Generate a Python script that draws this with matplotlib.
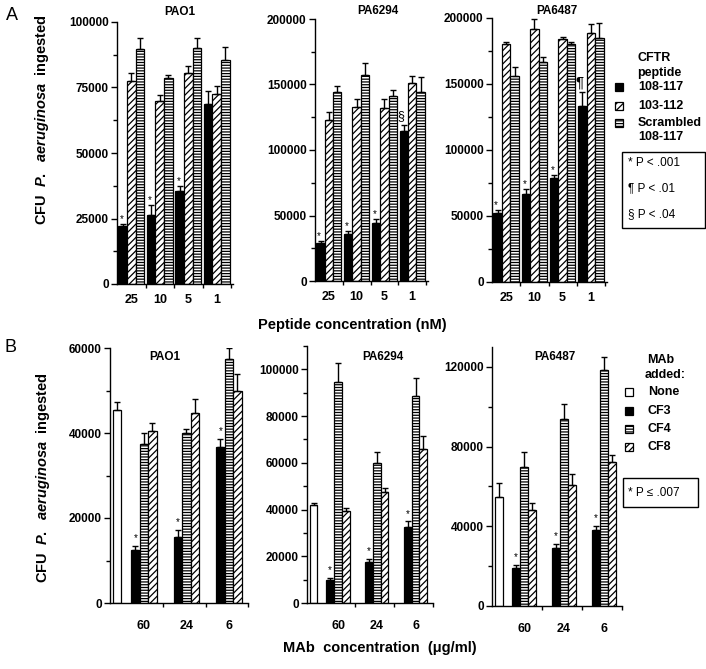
import numpy as np
import matplotlib
matplotlib.use("Agg")
import matplotlib.pyplot as plt
from matplotlib.patches import Rectangle

plt.rcParams['font.family'] = ['Liberation Sans', 'DejaVu Sans']
plt.rcParams['font.weight'] = 'bold'
plt.rcParams['hatch.linewidth'] = 0.9
plt.rcParams['mathtext.fontset'] = 'custom'
plt.rcParams['mathtext.rm'] = 'Liberation Sans:bold'
plt.rcParams['mathtext.it'] = 'Liberation Sans:italic:bold'

# ---- panel A: peptide inhibition ----
pep_conc = ["25", "10", "5", "1"]
pep_series = ["108-117", "103-112", "Scrambled\n108-117"]

pao1_a_108 = [22000, 26500, 35500, 68800]
pao1_a_108_err = [800, 3500, 2000, 4800]
pao1_a_103 = [77500, 70000, 80500, 72700]
pao1_a_103_err = [3000, 2300, 2600, 3000]
pao1_a_scr = [89800, 78600, 90000, 85400]
pao1_a_scr_err = [4000, 1300, 4000, 5000]
pao1_a_marks = ["*", "*", "*", ""]

pa6294_a_108 = [29000, 35500, 44000, 114300]
pa6294_a_108_err = [1500, 2500, 3000, 5000]
pa6294_a_103 = [123200, 132500, 131800, 151000]
pa6294_a_103_err = [6000, 6500, 6800, 5200]
pa6294_a_scr = [144500, 157300, 141400, 144000]
pa6294_a_scr_err = [4200, 8800, 4700, 12000]
pa6294_a_marks = ["*", "*", "*", "§"]

pa6487_a_108 = [52000, 67000, 78500, 133000]
pa6487_a_108_err = [2300, 3500, 2300, 11000]
pa6487_a_103 = [180200, 191500, 183800, 188900]
pa6487_a_103_err = [1800, 7500, 1800, 6200]
pa6487_a_scr = [156200, 166800, 180400, 184500]
pa6487_a_scr_err = [6400, 3900, 1500, 12000]
pa6487_a_marks = ["*", "*", "*", "¶"]

# ---- panel B: MAb inhibition ----
mab_conc = ["60", "24", "6"]
mab_series = ["None", "CF3", "CF4", "CF8"]

pao1_b_none = 45300
pao1_b_none_err = 1900
pao1_b_cf3 = [12500, 15500, 36600]
pao1_b_cf3_err = [900, 1700, 2000]
pao1_b_cf4 = [37500, 39900, 57500]
pao1_b_cf4_err = [2600, 1000, 2500]
pao1_b_cf8 = [40500, 44800, 49900]
pao1_b_cf8_err = [1800, 3200, 3900]

pa6294_b_none = 42000
pa6294_b_none_err = 1000
pa6294_b_cf3 = [9700, 17400, 32500]
pa6294_b_cf3_err = [1000, 1500, 2400]
pa6294_b_cf4 = [94800, 60000, 88400]
pa6294_b_cf4_err = [7800, 4500, 8100]
pa6294_b_cf8 = [39500, 47700, 65900]
pa6294_b_cf8_err = [1000, 1700, 5700]

pa6487_b_none = 54500
pa6487_b_none_err = 7200
pa6487_b_cf3 = [19300, 28900, 38200]
pa6487_b_cf3_err = [1200, 2200, 2200]
pa6487_b_cf4 = [69900, 93800, 118300]
pa6487_b_cf4_err = [7600, 7600, 6800]
pa6487_b_cf8 = [48200, 60700, 72400]
pa6487_b_cf8_err = [3700, 5500, 3400]

W, H = 706, 669
fig = plt.figure(figsize=(W / 100, H / 100), dpi=100)


def px_axes(x0, y0, x1, y1):
    """axes from pixel box (y measured from top)"""
    return fig.add_axes([x0 / W, 1 - y1 / H, (x1 - x0) / W, (y1 - y0) / H])


solid = dict(facecolor="black", edgecolor="black")
diag = dict(facecolor="white", edgecolor="black", hatch="/////")
horiz = dict(facecolor="white", edgecolor="black", hatch="------")
empty = dict(facecolor="white", edgecolor="black")


def bars(ax, x, vals, errs, style, width):
    ax.bar(x, vals, width, linewidth=0.9, **style)
    ax.errorbar(x, vals, yerr=[np.zeros(len(vals)), errs], fmt="none",
                ecolor="black", elinewidth=1.0, capsize=2.2, capthick=1.0)


def style_axes(ax, ymax, major, minor, tick_pad):
    ax.set_ylim(0, ymax)
    ax.set_yticks(np.arange(0, ymax + 1, major))
    ax.set_yticks(np.arange(0, ymax + 1, minor), minor=True)
    ax.spines["top"].set_visible(False)
    ax.spines["right"].set_visible(False)
    ax.spines["left"].set_linewidth(1.0)
    ax.spines["bottom"].set_linewidth(1.0)
    ax.tick_params(axis="y", which="major", length=4, width=1, labelsize=8.5, pad=2)
    ax.tick_params(axis="y", which="minor", length=3, width=1)
    ax.tick_params(axis="x", which="major", length=3, width=1, labelbottom=False)
    ax.tick_params(axis="x", which="minor", length=0, labelsize=9, pad=tick_pad)
    for t in ax.get_yticklabels():
        t.set_fontweight("bold")


def panel_a(box, a108, e108, a103, e103, ascr, escr, marks, ymax, minor):
    ax = px_axes(*box)
    x = np.arange(len(pep_conc))
    bars(ax, x - 0.3, a108, e108, solid, 0.3)
    bars(ax, x, a103, e103, diag, 0.3)
    bars(ax, x + 0.3, ascr, escr, horiz, 0.3)
    for xi, v, e, m in zip(x - 0.3, a108, e108, marks):
        if m == "*":
            ax.annotate(m, (xi, v + e), xytext=(-1, 0), textcoords="offset points",
                        ha="center", va="bottom", fontsize=7, fontweight="normal")
        elif m:
            ax.annotate(m, (xi, v + e), xytext=(-2, 2), textcoords="offset points",
                        ha="center", va="bottom", fontsize=11 if m == "¶" else 9,
                        fontweight="normal")
    ax.set_xlim(-0.5, 3.57)
    style_axes(ax, ymax, ymax / 4, minor, 7)
    ax.set_xticks(x + 0.5)
    ax.set_xticks(x, minor=True)
    ax.set_xticklabels(pep_conc, minor=True, fontweight="bold")
    return ax


def panel_b(box, none, none_err, c3, e3, c4, e4, c8, e8, ymax, major, minor, xmax):
    ax = px_axes(*box)
    x = np.arange(1, len(mab_conc) + 1)
    bars(ax, [0.37], [none], [none_err], empty, 0.2)
    bars(ax, x - 0.2, c3, e3, solid, 0.2)
    bars(ax, x, c4, e4, horiz, 0.2)
    bars(ax, x + 0.2, c8, e8, diag, 0.2)
    for xi, v, e in zip(x - 0.2, c3, e3):
        ax.annotate("*", (xi, v + e), xytext=(0, 2), textcoords="offset points",
                    ha="center", va="bottom", fontsize=7, fontweight="normal")
    ax.set_xlim(0.2, xmax)
    style_axes(ax, ymax, major, minor, 12)
    ax.set_xticks(x + 0.45)
    ax.set_xticks(x, minor=True)
    ax.set_xticklabels(mab_conc, minor=True, fontweight="bold")
    return ax


panel_a((117, 22, 233, 284), pao1_a_108, pao1_a_108_err, pao1_a_103, pao1_a_103_err,
        pao1_a_scr, pao1_a_scr_err, pao1_a_marks, 100000, 12500)
panel_a((315, 19, 428, 281), pa6294_a_108, pa6294_a_108_err, pa6294_a_103, pa6294_a_103_err,
        pa6294_a_scr, pa6294_a_scr_err, pa6294_a_marks, 200000, 25000)
panel_a((492, 18, 607, 282), pa6487_a_108, pa6487_a_108_err, pa6487_a_103, pa6487_a_103_err,
        pa6487_a_scr, pa6487_a_scr_err, pa6487_a_marks, 200000, 25000)

panel_b((110, 348, 248, 603), pao1_b_none, pao1_b_none_err, pao1_b_cf3, pao1_b_cf3_err,
        pao1_b_cf4, pao1_b_cf4_err, pao1_b_cf8, pao1_b_cf8_err, 60000, 20000, 10000, 3.35)
panel_b((307, 346, 433, 603), pa6294_b_none, pa6294_b_none_err, pa6294_b_cf3, pa6294_b_cf3_err,
        pa6294_b_cf4, pa6294_b_cf4_err, pa6294_b_cf8, pa6294_b_cf8_err, 110000, 20000, 10000, 3.38)
panel_b((492, 347, 622, 606), pa6487_b_none, pa6487_b_none_err, pa6487_b_cf3, pa6487_b_cf3_err,
        pa6487_b_cf4, pa6487_b_cf4_err, pa6487_b_cf8, pa6487_b_cf8_err, 130000, 40000, 20000, 3.45)

# overlay for labels / legends in pixel coordinates
ov = fig.add_axes([0, 0, 1, 1], zorder=5)
ov.set_xlim(0, W)
ov.set_ylim(H, 0)
ov.axis("off")
ov.patch.set_alpha(0)

ylab = r"CFU  $\it{P.\ \ aeruginosa}$  ingested"
ov.text(12, 16, "A", fontsize=13, fontweight="normal", ha="center", va="center")
ov.text(11, 347, "B", fontsize=13, fontweight="normal", ha="center", va="center")
ov.text(42, 120, ylab, rotation=90, fontsize=10.5, ha="center", va="center")
ov.text(43, 478, ylab, rotation=90, fontsize=10.5, ha="center", va="center")
ov.text(352, 325, "Peptide concentration (nM)", fontsize=10.5, ha="center", va="center")
ov.text(380, 648, "MAb  concentration  (μg/ml)", fontsize=10.5, ha="center", va="center")

for name, (tx, ty) in zip(["PAO1", "PA6294", "PA6487"], [(180, 12), (378, 11), (557, 11)]):
    ov.text(tx, ty, name, fontsize=8.5, ha="center", va="center")
for name, (tx, ty) in zip(["PAO1", "PA6294", "PA6487"], [(165, 357), (383, 357), (555, 357)]):
    ov.text(tx, ty, name, fontsize=8.5, ha="center", va="center")

# legend A
ov.text(637, 58, "CFTR", fontsize=9, ha="left", va="center")
ov.text(637, 73, "peptide", fontsize=9, ha="left", va="center")
for lab, st, ly in zip(pep_series, [solid, diag, horiz], [87, 106, 123]):
    ov.add_patch(Rectangle((615, ly - 4), 8, 8, linewidth=0.9, **st))
    first = lab.split("\n")
    ov.text(638, ly, first[0], fontsize=9, ha="left", va="center")
    if len(first) > 1:
        ov.text(638, ly + 14, first[1], fontsize=9, ha="left", va="center")
ov.add_patch(Rectangle((622, 152), 83, 76, facecolor="none", edgecolor="black", linewidth=1))
for s, ly in zip(["* P < .001", "¶ P < .01", "§ P < .04"], [163, 188, 214]):
    ov.text(628, ly, s, fontsize=8.5, fontweight="normal", ha="left", va="center")

# legend B
ov.text(647, 360, "MAb", fontsize=9, ha="left", va="center")
ov.text(645, 375, "added:", fontsize=9, ha="left", va="center")
for lab, st, ly in zip(mab_series, [empty, solid, horiz, diag], [392, 411, 429, 447]):
    ov.add_patch(Rectangle((625, ly - 4), 8, 8, linewidth=0.9, **st))
    ov.text(648, ly, lab, fontsize=9, ha="left", va="center")
ov.add_patch(Rectangle((623, 478), 75, 29, facecolor="none", edgecolor="black", linewidth=1))
ov.text(628, 493, "* P ≤ .007", fontsize=8.5, fontweight="normal", ha="left", va="center")

fig.savefig("out.png", dpi=100)
